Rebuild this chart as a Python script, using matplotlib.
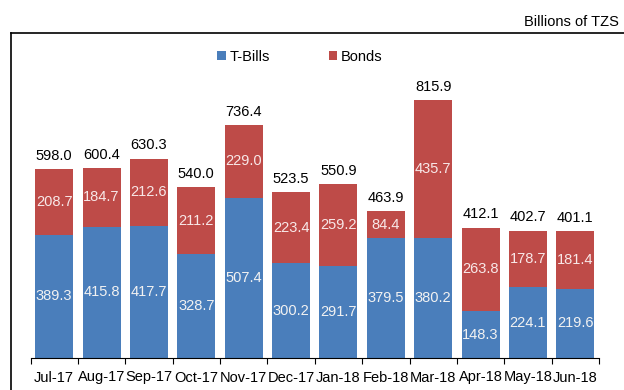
import matplotlib.pyplot as plt
from matplotlib.lines import Line2D
import numpy as np

plt.rcParams['font.family'] = ['Liberation Sans', 'DejaVu Sans']

months = ['Jul-17', 'Aug-17', 'Sep-17', 'Oct-17', 'Nov-17', 'Dec-17',
          'Jan-18', 'Feb-18', 'Mar-18', 'Apr-18', 'May-18', 'Jun-18']
tbills = [389.3, 415.8, 417.7, 328.7, 507.4, 300.2, 291.7, 379.5, 380.2, 148.3, 224.1, 219.6]
bonds = [208.7, 184.7, 212.6, 211.2, 229.0, 223.4, 259.2, 84.4, 435.7, 263.8, 178.7, 181.4]
totals = [598.0, 600.4, 630.3, 540.0, 736.4, 523.5, 550.9, 463.9, 815.9, 412.1, 402.7, 401.1]

blue = '#4A7EBB'
red = '#BE4B48'
fs = 10.5

fig = plt.figure(figsize=(6.24, 3.9), dpi=100)
ax = fig.add_axes([30.5 / 624, 1 - 358 / 390, (599 - 30.5) / 624, 325 / 390])

x = np.arange(len(months))
b1 = ax.bar(x, tbills, width=0.8, color=blue, label='T-Bills')
b2 = ax.bar(x, bonds, width=0.8, bottom=tbills, color=red, label='Bonds')

for i in range(len(months)):
    ax.text(x[i], tbills[i] / 2, f'{tbills[i]:.1f}', ha='center', va='center',
            color='#F2F2F2', fontsize=fs)
    ax.text(x[i], tbills[i] + bonds[i] / 2, f'{bonds[i]:.1f}', ha='center', va='center',
            color='#F8E8E8', fontsize=fs)
    ax.text(x[i], totals[i] + 20, f'{totals[i]:.1f}', ha='center', va='bottom',
            color='black', fontsize=fs)

ax.set_xlim(-0.5, len(months) - 0.5)
ax.set_ylim(0, 1028)
ax.set_yticks([])
for s in ['left', 'right', 'top']:
    ax.spines[s].set_visible(False)
ax.spines['bottom'].set_linewidth(0.8)

ax.set_xticks(x)
ax.set_xticklabels(months, fontsize=fs)
ax.tick_params(axis='x', which='major', length=0, pad=9)
ax.set_xticks(np.arange(-0.5, len(months)), minor=True)
ax.tick_params(axis='x', which='minor', length=4, width=0.8, direction='out')

fig.legend(handles=[b1, b2], loc='center', bbox_to_anchor=(300 / 624, 1 - 57 / 390),
           ncol=2, frameon=False, fontsize=fs, handlelength=0.6, handleheight=0.6,
           handletextpad=0.25, columnspacing=4.0)

fig.text(619 / 624, 1 - 22 / 390, 'Billions of TZS', ha='right', va='center', fontsize=fs)

# outer frame: left and top edges
fig.add_artist(Line2D([11 / 624, 11 / 624], [0, 1 - 33 / 390], color='black', lw=1.2))
fig.add_artist(Line2D([11 / 624, 1], [1 - 33 / 390, 1 - 33 / 390], color='black', lw=1.2))

fig.savefig('out.png', dpi=100)
